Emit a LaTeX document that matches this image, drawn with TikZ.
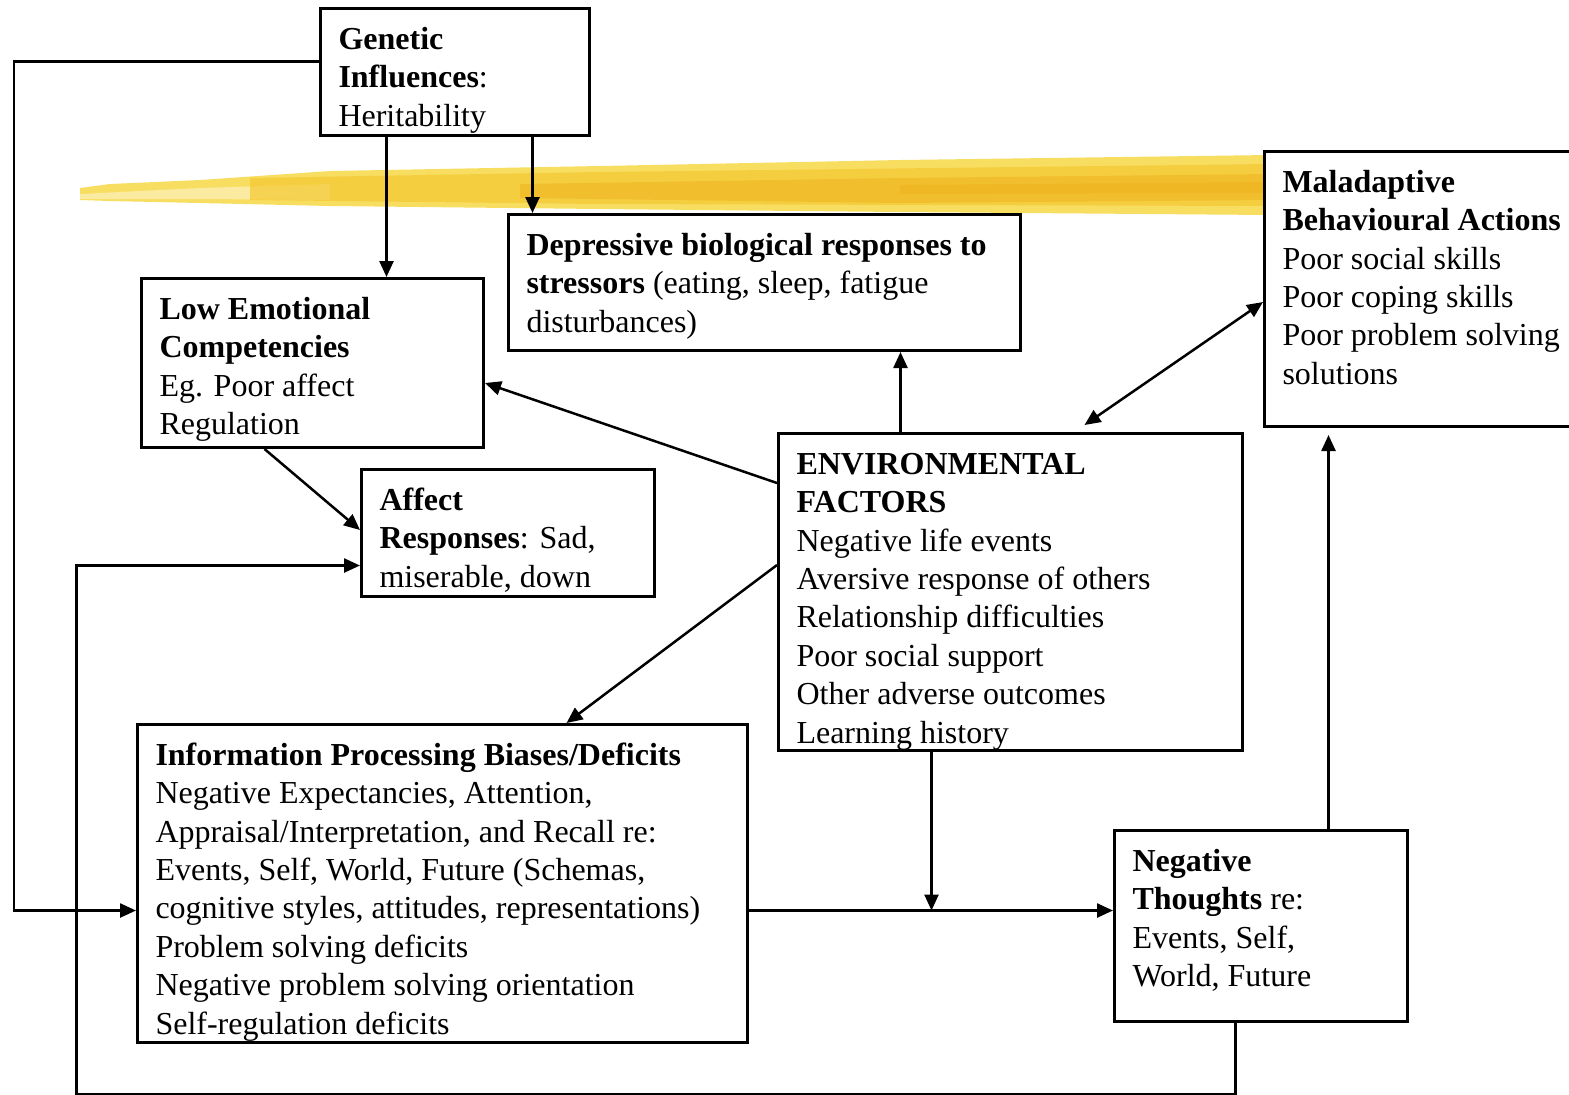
\documentclass[tikz,border=0pt]{standalone}
\usepackage{fontspec}
\setmainfont{Liberation Serif}
\usetikzlibrary{arrows.meta}

\definecolor{brushlight}{RGB}{248,222,96}
\definecolor{brushmid}{RGB}{245,200,50}
\definecolor{brushdark}{RGB}{238,178,30}

\begin{document}
\begin{tikzpicture}[x=0.5pt,y=-0.5pt,
  panel/.style={draw,line width=1.5pt,fill=white,anchor=north west,
    inner xsep=9pt,inner ysep=7pt,font=\fontsize{16}{19.2}\selectfont},
  arr/.style={-{Triangle[length=8pt,width=7pt]},line width=1.25pt},
  darr/.style={{Triangle[length=8pt,width=7pt]}-{Triangle[length=8pt,width=7pt]},line width=1.25pt}]

  \useasboundingbox (0,0) rectangle (1569,1094);

  % highlighter stroke
  \fill[brushlight] (80,188) -- (110,184) -- (200,180) -- (330,171) -- (600,166)
    -- (900,160) -- (1270,155) -- (1270,215) -- (900,212) -- (600,209)
    -- (330,206) -- (200,203) -- (110,201) -- (80,200) -- cycle;
  \fill[brushlight!60!white] (80,194) -- (200,188) -- (330,184) -- (330,200) -- (200,199) -- (80,199) -- cycle;
  \fill[brushmid,opacity=0.7] (250,178) -- (600,172) -- (1270,164) -- (1270,206)
    -- (600,204) -- (250,200) -- cycle;
  \fill[brushdark,opacity=0.5] (520,184) -- (900,178) -- (1270,174) -- (1270,200)
    -- (900,203) -- (520,198) -- cycle;
  \fill[brushdark,opacity=0.6] (900,185) -- (1270,182) -- (1270,193) -- (900,194) -- cycle;

  \node[panel,minimum width=134.5pt,minimum height=63.5pt] (gen) at (319,7)
    {\parbox[c][49.5pt][t]{116.5pt}{\raggedright\strut\textbf{Genetic}\\\textbf{Influences}:\\Heritability}};
  \node[panel,minimum width=171pt,minimum height=84.5pt] (low) at (140,277)
    {\parbox[c][70.5pt][t]{153pt}{\raggedright\strut\textbf{Low Emotional}\\\textbf{Competencies}\\Eg. Poor affect\\Regulation}};
  \node[panel,minimum width=256pt,minimum height=68pt] (dep) at (507,213)
    {\parbox[c][54pt][t]{238pt}{\raggedright\strut\textbf{Depressive biological responses to}\\\textbf{stressors} (eating, sleep, fatigue\\disturbances)}};
  \node[panel,minimum width=168.5pt,minimum height=137.5pt] (mal) at (1263,150)
    {\parbox[c][123.5pt][t]{150.5pt}{\raggedright\strut\textbf{Maladaptive}\\\textbf{Behavioural Actions}\\Poor social skills\\Poor coping skills\\Poor problem solving\\solutions}};
  \node[panel,minimum width=146.5pt,minimum height=63.5pt] (aff) at (360,468)
    {\parbox[c][49.5pt][t]{128.5pt}{\raggedright\strut\textbf{Affect}\\\textbf{Responses}: Sad,\\miserable, down}};
  \node[panel,minimum width=232pt,minimum height=158.5pt] (env) at (777,432)
    {\parbox[c][144.5pt][t]{214pt}{\raggedright\strut\textbf{ENVIRONMENTAL}\\\textbf{FACTORS}\\Negative life events\\Aversive response of others\\Relationship difficulties\\Poor social support\\Other adverse outcomes\\Learning history}};
  \node[panel,minimum width=305pt,minimum height=159pt] (info) at (136,723)
    {\parbox[c][145pt][t]{287pt}{\raggedright\strut\textbf{Information Processing Biases/Deficits}\\Negative Expectancies, Attention,\\Appraisal/Interpretation, and Recall re:\\Events, Self, World, Future (Schemas,\\cognitive styles, attitudes, representations)\\Problem solving deficits\\Negative problem solving orientation\\Self-regulation deficits}};
  \node[panel,minimum width=146.5pt,minimum height=95.5pt] (neg) at (1113,829)
    {\parbox[c][81.5pt][t]{128.5pt}{\raggedright\strut\textbf{Negative}\\\textbf{Thoughts} re:\\Events, Self,\\World, Future}};

  % attachment points
  \coordinate (genl) at ([xshift=-34.25pt]gen.south);
  \coordinate (genr) at ([xshift=38.75pt]gen.south);
  \coordinate (envup) at ([xshift=-55pt]env.north);
  \coordinate (envdown) at ([xshift=-39.5pt]env.south);
  \coordinate (ipout) at ([yshift=-13.5pt]info.east);
  \coordinate (negup) at ([xshift=33.75pt]neg.north);
  \coordinate (negout) at ([xshift=-12.75pt]neg.south);
  \coordinate (affin) at ([yshift=-16.25pt]aff.west);

  \draw[arr] ([yshift=5.25pt]gen.west) -- ++(-305,0) |- ([yshift=-13.5pt]info.west);
  \draw[arr] (genl) -- (genl |- low.north);
  \draw[arr] (genr) -- (genr |- dep.north);
  \draw[arr] (envup) -- (envup |- dep.south);
  \draw[arr] ([yshift=-25.5pt]env.north west) -- ([yshift=-53pt]low.north east);
  \draw[arr] ([xshift=-24pt]low.south) -- ([yshift=-31pt]aff.north west);
  \draw[arr] ([yshift=-66.5pt]env.north west) -- ([xshift=62pt]info.north);
  \draw[darr] ([xshift=37pt,yshift=3.5pt]env.north) -- ([yshift=-76pt]mal.north west);
  \draw[arr] (ipout) -- (ipout -| neg.west);
  \draw[arr] (envdown) -- (envdown |- ipout);
  \draw[arr,shorten >=3.5pt] (negup) -- (negup |- mal.south);
  \draw[arr] (negout) -- ++(0,71) -- ++(-1159,0) |- (affin);

\end{tikzpicture}
\end{document}
